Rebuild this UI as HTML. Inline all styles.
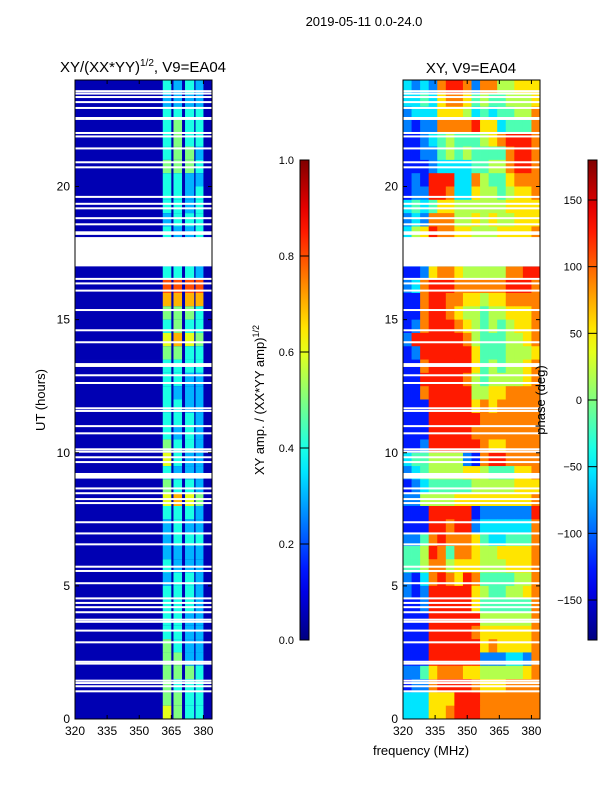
<!DOCTYPE html>
<html><head><meta charset="utf-8">
<style>
html,body{margin:0;padding:0;background:#fff;}
svg{display:block;font-family:"Liberation Sans","DejaVu Sans",sans-serif;}
</style></head>
<body>
<svg id="fig" width="600" height="800" viewBox="0 0 600 800" xmlns="http://www.w3.org/2000/svg">
<defs>
<linearGradient id="jetGrad" x1="0" y1="1" x2="0" y2="0"></linearGradient>
<clipPath id="clipL"><rect x="75" y="80" width="137" height="639"/></clipPath>
<clipPath id="clipR"><rect x="403" y="80" width="137" height="639"/></clipPath>
</defs>
<text x="364" y="26" font-size="13" text-anchor="middle">2019-05-11 0.0-24.0</text>
<text x="143" y="72" font-size="15" text-anchor="middle">XY/(XX*YY)<tspan font-size="10" dy="-6">1/2</tspan><tspan dy="6">, V9=EA04</tspan></text>
<text x="471" y="73" font-size="15" text-anchor="middle">XY, V9=EA04</text>
<g id="leftPanel" clip-path="url(#clipL)"></g>
<g id="rightPanel" clip-path="url(#clipR)"></g>
<g id="axes"></g>
<text transform="translate(45,400) rotate(-90)" font-size="13" text-anchor="middle">UT (hours)</text>
<text x="421" y="755" font-size="13" text-anchor="middle">frequency (MHz)</text>
<text transform="translate(264,400) rotate(-90)" font-size="13" text-anchor="middle">XY amp. / (XX*YY amp)<tspan font-size="9" dy="-5">1/2</tspan></text>
<text transform="translate(545,400) rotate(-90)" font-size="13" text-anchor="middle">phase (deg)</text>
</svg>
<script>
// ---- data ----
const utRange = [0, 24];
const freqRange = [320, 384];
const xTicks = [320, 335, 350, 365, 380];
const yTicks = [0, 5, 10, 15, 20];
const ampTicks = [0.0, 0.2, 0.4, 0.6, 0.8, 1.0];
const phaseTicks = [-150, -100, -50, 0, 50, 100, 150];
// left panel: background amplitude (digit/10+0.05) per 0.5h row from top (UT 24 -> 0)
const ampBackground = "000000000000000000000000000000000000000000000000";
const bandStart = [361, 366, 371.4, 376.3];
const bandEnd = [365, 370, 375.7, 380];
// amplitude per band per row (digit -> d/10), rows from top
const ampBands = ["4343","3333","4444","4544","4544","4553","5554","4433","4434","4434","3444","4334",
"3333","3333","4443","8888","7777","5554","4544","6765","5544","4444","4433","4333",
"4433","4443","4343","5443","6433","4333","5443","6765","4443","3433","3444","3333",
"4333","3443","4443","4443","4433","4433","5433","5533","5554","5444","5544","6544"];
// right panel: phase per 4 MHz column (16), digit -> -180+(d+0.5)*36, rows from top
const phaseRows = ["3232788727755666","3343677645445556","2333666534344557","2122777786634447",
"1123454445678887","1122454544447887","1112333344557887","1218883375446777",
"1228873365545667","3434665555556666","2327775565655666","3568776655566667",
"3333333333333333","3333333333333333","1126776555557788","2378887777778887",
"1178877665667777","1178876554556667","1278887654545667","2888888754445567",
"1288888864445556","1178888864545567","1188888754555567","1178888855667777",
"1118888867677777","1118888887777777","1118888877777777","1128888887667777",
"3445555217887777","2345555665444667","1234444455555666","2255556666666667",
"1118888812222228","1118878823333337","2247877764334447","4458747765566667",
"4457756665556667","2137876874444557","2128888865445567","1128888864444447",
"1118888885555557","1118888876666667","1118888886766667","1118888882223327",
"2246777665555567","1227888876667777","3336668887777777","3336678887777777"];
// flagged (blank) times in UT hours
const flagLines = [23.58,23.49,23.36,23.17,22.95,22.01,21.88,21.43,20.91,20.72,19.61,19.35,19.18,18.81,18.58,18.28,18.22,
16.53,16.36,16.09,15.36,14.60,14.15,13.33,13.26,12.91,12.62,11.67,11.57,11.00,10.73,10.13,10.04,9.83,9.65,
8.66,8.48,8.26,8.11,7.39,6.97,6.56,5.72,5.56,5.10,4.53,4.36,4.20,4.01,3.73,3.65,3.32,2.88,2.15,2.08,1.44,1.35,1.23,1.04];
const flagBlocks = [[22.50,22.61],[17.00,18.10],[9.03,9.24]];

// ---- scales ----
const L = {x0:75, x1:212}, R = {x0:403, x1:540}, Y = {y0:719, y1:80};
function xs(p, f){ return p.x0 + (f-freqRange[0])/(freqRange[1]-freqRange[0])*(p.x1-p.x0); }
function ys(ut){ return Y.y0 - (ut-utRange[0])/(utRange[1]-utRange[0])*(Y.y0-Y.y1); }
function cl(v){ return Math.max(0, Math.min(1, v)); }
function jet(v){
  const r = cl(1.5-Math.abs(4*v-3)), g = cl(1.5-Math.abs(4*v-2)), b = cl(1.5-Math.abs(4*v-1));
  return `rgb(${Math.round(r*255)},${Math.round(g*255)},${Math.round(b*255)})`;
}
const NS = "http://www.w3.org/2000/svg";
function mk(tag, attrs, parent){
  const e = document.createElementNS(NS, tag);
  for (const k in attrs) e.setAttribute(k, attrs[k]);
  parent.appendChild(e); return e;
}
const gl = document.getElementById('leftPanel');
const gr = document.getElementById('rightPanel');
const ax = document.getElementById('axes');
const nRows = ampBands.length;
const dt = (utRange[1]-utRange[0]) / nRows;

// left heatmap
for (let r=0; r<nRows; r++){
  const utTop = utRange[1] - r*dt, utBot = utTop - dt;
  const yt = ys(utTop), yb = ys(utBot);
  const bg = mk('rect', {x:L.x0, y:yt, width:L.x1-L.x0, height:yb-yt+0.4, fill:jet((+ampBackground[r]+0.5)/10)}, gl);
  
  
  for (let b=0; b<bandStart.length; b++){
    const v = (+ampBands[r][b])/10;
    const x0 = xs(L, bandStart[b]), x1 = xs(L, bandEnd[b]);
    const c = mk('rect', {x:x0, y:yt, width:x1-x0, height:yb-yt+0.4, fill:jet(v)}, gl);
    
    
  }
}
// right heatmap
for (let r=0; r<phaseRows.length; r++){
  const row = phaseRows[r];
  const utTop = utRange[1] - r*dt, utBot = utTop - dt;
  const yt = ys(utTop), yb = ys(utBot);
  const df = (freqRange[1]-freqRange[0]) / row.length;
  for (let c=0; c<row.length; c++){
    const ph = -180 + (+row[c]+0.5)*36;
    const x0 = xs(R, freqRange[0]+c*df), x1 = xs(R, freqRange[0]+(c+1)*df);
    const e = mk('rect', {x:x0, y:yt, width:x1-x0+0.4, height:yb-yt+0.4, fill:jet((ph+180)/360)}, gr);
    
    
  }
}
// flags
[gl, gr].forEach((g, gi) => {
  const P = gi===0 ? L : R;
  flagLines.forEach(u => {
    const y = ys(u);
    const e = mk('rect', {x:P.x0, y:y-1, width:P.x1-P.x0, height:2, fill:'#fff'}, g);
    
    
  });
  flagBlocks.forEach(b => {
    const yt = ys(b[1]), yb = ys(b[0]);
    const e = mk('rect', {x:P.x0, y:yt, width:P.x1-P.x0, height:yb-yt, fill:'#fff'}, g);
    
    
  });
});
// axes frames and ticks
[L, R].forEach((P, pi) => {
  const fr = mk('rect', {x:P.x0, y:Y.y1, width:P.x1-P.x0, height:Y.y0-Y.y1, fill:'none', stroke:'#000', 'stroke-width':1}, ax);
  
  
  xTicks.forEach(f => {
    const x = xs(P, f);
    mk('line', {x1:x, y1:Y.y0, x2:x, y2:Y.y0-4, stroke:'#000'}, ax);
    mk('line', {x1:x, y1:Y.y1, x2:x, y2:Y.y1+4, stroke:'#000'}, ax);
    const t = mk('text', {x:x, y:Y.y0+16, 'font-size':12, 'text-anchor':'middle'}, ax);
    t.textContent = f;
    
    
  });
  yTicks.forEach(u => {
    const y = ys(u);
    mk('line', {x1:P.x0, y1:y, x2:P.x0+4, y2:y, stroke:'#000'}, ax);
    mk('line', {x1:P.x1, y1:y, x2:P.x1-4, y2:y, stroke:'#000'}, ax);
    const t = mk('text', {x:P.x0-5, y:y+4, 'font-size':12, 'text-anchor':'end'}, ax);
    t.textContent = u;
    
    
  });
});
// colorbars
const grad = document.getElementById('jetGrad');
for (let i=0; i<=20; i++){ mk('stop', {offset:(i/20), 'stop-color':jet(i/20)}, grad); }
const CB = {y0:640, y1:160};
function colorbar(x, w, ticks, lo, hi, fmt, name){
  const r = mk('rect', {x:x, y:CB.y1, width:w, height:CB.y0-CB.y1, fill:'url(#jetGrad)', stroke:'#000'}, ax);
  
  
  ticks.forEach(v => {
    const y = CB.y0 - (v-lo)/(hi-lo)*(CB.y0-CB.y1);
    mk('line', {x1:x, y1:y, x2:x+w, y2:y, stroke:'#000'}, ax);
    const t = mk('text', {x:x-6, y:y+4, 'font-size':11, 'text-anchor':'end'}, ax);
    t.textContent = fmt(v);
    
    
  });
}
colorbar(300, 9, ampTicks, 0, 1, v => v.toFixed(1), 'amp-colorbar');
colorbar(588, 9, phaseTicks, -180, 180, v => (v<0 ? '\u2212'+(-v) : ''+v), 'phase-colorbar');
</script>
</body></html>
